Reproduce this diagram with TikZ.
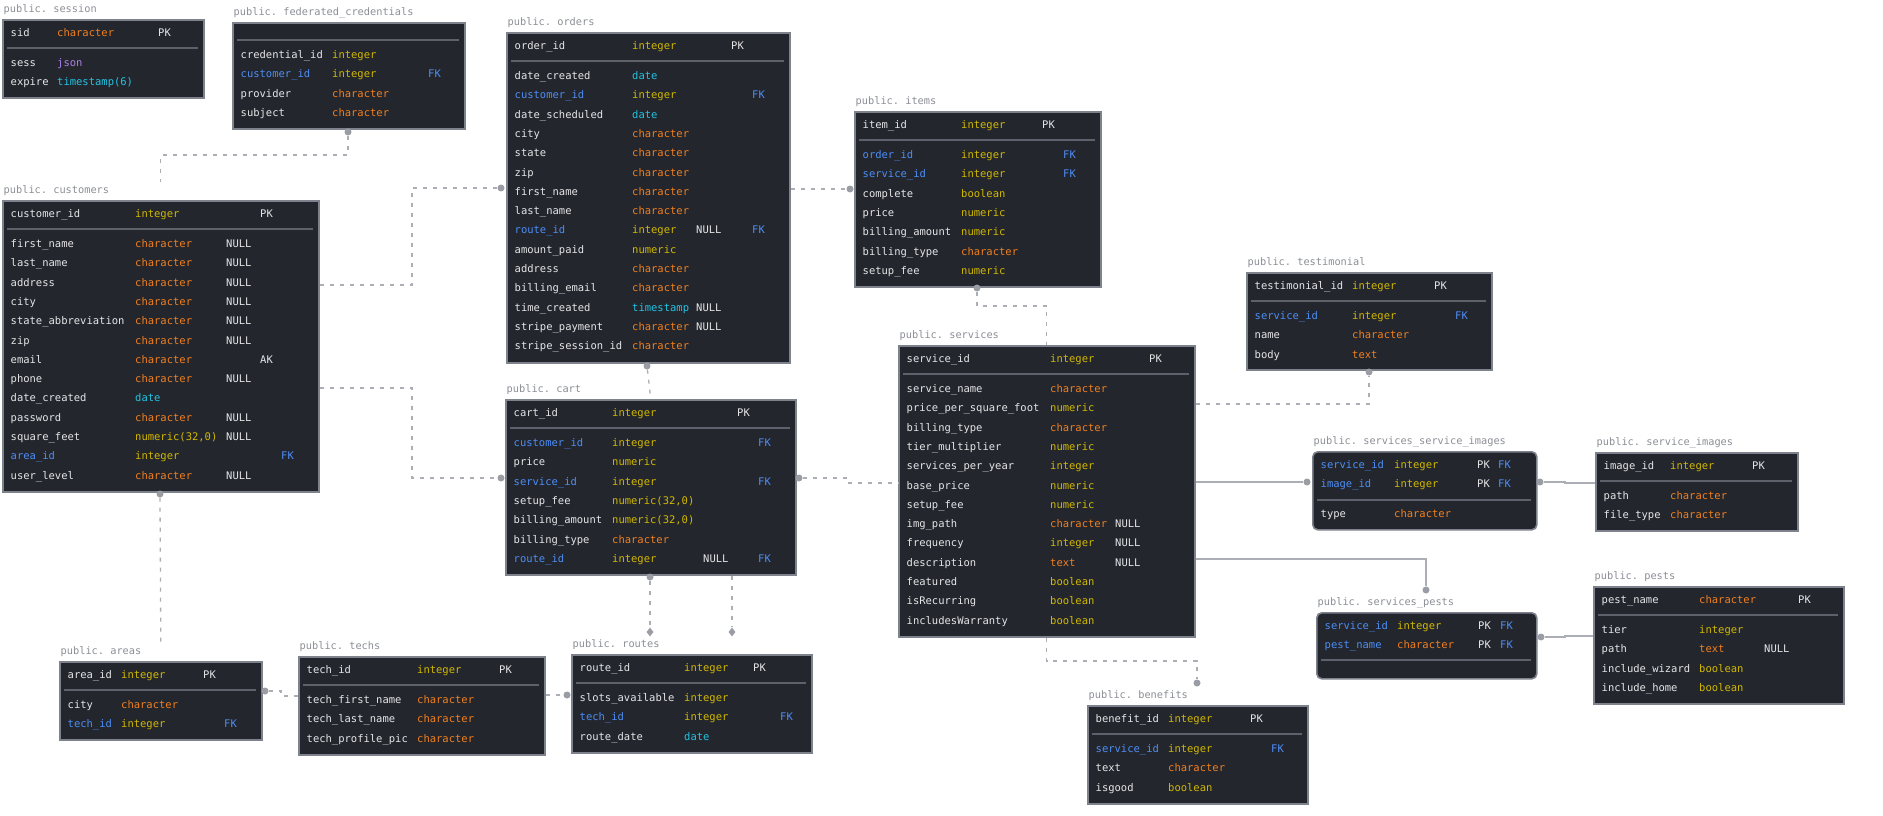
\documentclass[tikz,border=0pt]{standalone}
\usepackage{fontspec}
\setmonofont{DejaVu Sans Mono}
\usetikzlibrary{shapes.geometric, calc}

\definecolor{tblfill}{HTML}{23262D}
\definecolor{tblborder}{HTML}{7D828C}
\definecolor{sepline}{HTML}{5C616B}
\definecolor{txtc}{HTML}{E6E6E8}
\definecolor{fkc}{HTML}{4D8EF5}
\definecolor{ytype}{HTML}{D2B900}
\definecolor{otype}{HTML}{F2801F}
\definecolor{ctype}{HTML}{22C4E3}
\definecolor{ptype}{HTML}{AD7FEA}
\definecolor{lblgray}{HTML}{8B8E95}
\definecolor{linkgray}{HTML}{ABAEB4}
\definecolor{dotgray}{HTML}{9A9DA3}

\tikzset{
    tbl/.style={rectangle, draw=tblborder, fill=tblfill, line width=1.6pt, anchor=north west, inner sep=0pt},
    rtbl/.style={tbl, rounded corners=5pt},
    lbl/.style={anchor=south west, inner sep=0pt, xshift=1.5pt, yshift=4pt, text=lblgray, font=\ttfamily\fontsize{10.3}{12}\selectfont},
    fld/.style={anchor=west, inner sep=0pt, text height=9pt, text depth=2pt, text=txtc, font=\ttfamily\fontsize{10.5}{12}\selectfont},
    divider/.style={draw=sepline, line width=1.2pt},
    link/.style={draw=linkgray, line width=1.3pt, dash pattern=on 4pt off 6pt},
    solidlink/.style={draw=linkgray, line width=1.3pt},
    enddot/.style={circle, fill=dotgray, inner sep=0pt, minimum size=7pt},
    endmark/.style={diamond, fill=dotgray, inner sep=0pt, minimum width=7pt, minimum height=9pt}
}

% column positions of the current table
\def\nhead{1}\def\bodyy{44}
\def\colT{100}\def\colN{0}\def\colP{0}\def\colF{0}

% rows: name/namecolor/type/typecolor/null/pk/fk
\newcommand{\erfields}[2]{%
  \foreach \rN/\rNc/\rT/\rTc/\rZ/\rP/\rF [count=\i] in {#2} {
    \pgfmathsetmacro\ry{\i<\nhead+0.5 ? 14+19.3*(\i-1) : \bodyy+19.3*(\i-\nhead-1)}
    \node[fld, text=\rNc] (#1-n\i) at (8.5,\ry) {\rN};
    \node[fld, text=\rTc] (#1-t\i) at (\colT,\ry) {\rT};
    \node[fld] (#1-z\i) at (\colN,\ry) {\rZ};
    \node[fld] (#1-p\i) at (\colP,\ry) {\rP};
    \node[fld, text=fkc] (#1-f\i) at (\colF,\ry) {\rF};
  }%
}

\begin{document}
\begin{tikzpicture}[x=1pt, y=-1pt]
    \useasboundingbox (0,0) rectangle (1883,816);

    % Session
    \node[tbl, minimum width=201, minimum height=78] (session) at (2,19) {};
    \node[lbl] (session-lbl) at (session.north west) {public. session};
    \begin{scope}[shift={(session.north west)}]
        \def\colT{55}\def\colP{156}\def\colF{180}
        \draw[divider] (5,29) -- (196,29);
        \erfields{session}{sid/txtc/character/otype/{}/PK/{},
            sess/txtc/json/ptype/{}/{}/{}, expire/txtc/timestamp(6)/ctype/{}/{}/{}}
    \end{scope}

    % Federated credentials
    \node[tbl, minimum width=232, minimum height=106] (fed) at (232,22) {};
    \node[lbl] (fed-lbl) at (fed.north west) {public. federated\_credentials};
    \begin{scope}[shift={(fed.north west)}]
        \def\nhead{0}\def\bodyy{33}\def\colT{100}\def\colF{196}
        \draw[divider] (5,18) -- (227,18);
        \erfields{fed}{credential\_id/txtc/integer/ytype/{}/{}/{},
            customer\_id/fkc/integer/ytype/{}/{}/FK,
            provider/txtc/character/otype/{}/{}/{},
            subject/txtc/character/otype/{}/{}/{}}
    \end{scope}

    % Customers
    \node[tbl, minimum width=316, minimum height=291] (customers) at (2,200) {};
    \node[lbl] (customers-lbl) at (customers.north west) {public. customers};
    \begin{scope}[shift={(customers.north west)}]
        \def\colT{133}\def\colN{224}\def\colP{258}\def\colF{279}
        \draw[divider] (5,29) -- (311,29);
        \erfields{customers}{customer\_id/txtc/integer/ytype/{}/PK/{},
            first\_name/txtc/character/otype/NULL/{}/{},
            last\_name/txtc/character/otype/NULL/{}/{},
            address/txtc/character/otype/NULL/{}/{},
            city/txtc/character/otype/NULL/{}/{},
            state\_abbreviation/txtc/character/otype/NULL/{}/{},
            zip/txtc/character/otype/NULL/{}/{},
            email/txtc/character/otype/{}/AK/{},
            phone/txtc/character/otype/NULL/{}/{},
            date\_created/txtc/date/ctype/{}/{}/{},
            password/txtc/character/otype/NULL/{}/{},
            square\_feet/txtc/{numeric(32,0)}/ytype/NULL/{}/{},
            area\_id/fkc/integer/ytype/{}/{}/FK,
            user\_level/txtc/character/otype/NULL/{}/{}}
    \end{scope}

    % Orders
    \node[tbl, minimum width=283, minimum height=330] (orders) at (506,32) {};
    \node[lbl] (orders-lbl) at (orders.north west) {public. orders};
    \begin{scope}[shift={(orders.north west)}]
        \def\colT{126}\def\colN{190}\def\colP{225}\def\colF{246}
        \draw[divider] (5,29) -- (278,29);
        \erfields{orders}{order\_id/txtc/integer/ytype/{}/PK/{},
            date\_created/txtc/date/ctype/{}/{}/{},
            customer\_id/fkc/integer/ytype/{}/{}/FK,
            date\_scheduled/txtc/date/ctype/{}/{}/{},
            city/txtc/character/otype/{}/{}/{},
            state/txtc/character/otype/{}/{}/{},
            zip/txtc/character/otype/{}/{}/{},
            first\_name/txtc/character/otype/{}/{}/{},
            last\_name/txtc/character/otype/{}/{}/{},
            route\_id/fkc/integer/ytype/NULL/{}/FK,
            amount\_paid/txtc/numeric/ytype/{}/{}/{},
            address/txtc/character/otype/{}/{}/{},
            billing\_email/txtc/character/otype/{}/{}/{},
            time\_created/txtc/timestamp/ctype/NULL/{}/{},
            stripe\_payment/txtc/character/otype/NULL/{}/{},
            stripe\_session\_id/txtc/character/otype/{}/{}/{}}
    \end{scope}

    % Items
    \node[tbl, minimum width=246, minimum height=175] (items) at (854,111) {};
    \node[lbl] (items-lbl) at (items.north west) {public. items};
    \begin{scope}[shift={(items.north west)}]
        \def\colT{107}\def\colP{188}\def\colF{209}
        \draw[divider] (5,29) -- (241,29);
        \erfields{items}{item\_id/txtc/integer/ytype/{}/PK/{},
            order\_id/fkc/integer/ytype/{}/{}/FK,
            service\_id/fkc/integer/ytype/{}/{}/FK,
            complete/txtc/boolean/ytype/{}/{}/{},
            price/txtc/numeric/ytype/{}/{}/{},
            billing\_amount/txtc/numeric/ytype/{}/{}/{},
            billing\_type/txtc/character/otype/{}/{}/{},
            setup\_fee/txtc/numeric/ytype/{}/{}/{}}
    \end{scope}

    % Cart
    \node[tbl, minimum width=290, minimum height=175] (cart) at (505,399) {};
    \node[lbl] (cart-lbl) at (cart.north west) {public. cart};
    \begin{scope}[shift={(cart.north west)}]
        \def\colT{107}\def\colN{198}\def\colP{232}\def\colF{253}
        \draw[divider] (5,29) -- (285,29);
        \erfields{cart}{cart\_id/txtc/integer/ytype/{}/PK/{},
            customer\_id/fkc/integer/ytype/{}/{}/FK,
            price/txtc/numeric/ytype/{}/{}/{},
            service\_id/fkc/integer/ytype/{}/{}/FK,
            setup\_fee/txtc/{numeric(32,0)}/ytype/{}/{}/{},
            billing\_amount/txtc/{numeric(32,0)}/ytype/{}/{}/{},
            billing\_type/txtc/character/otype/{}/{}/{},
            route\_id/fkc/integer/ytype/NULL/{}/FK}
    \end{scope}

    % Services
    \node[tbl, minimum width=296, minimum height=291] (services) at (898,345) {};
    \node[lbl] (services-lbl) at (services.north west) {public. services};
    \begin{scope}[shift={(services.north west)}]
        \def\colT{152}\def\colN{217}\def\colP{251}
        \draw[divider] (5,29) -- (291,29);
        \erfields{services}{service\_id/txtc/integer/ytype/{}/PK/{},
            service\_name/txtc/character/otype/{}/{}/{},
            price\_per\_square\_foot/txtc/numeric/ytype/{}/{}/{},
            billing\_type/txtc/character/otype/{}/{}/{},
            tier\_multiplier/txtc/numeric/ytype/{}/{}/{},
            services\_per\_year/txtc/integer/ytype/{}/{}/{},
            base\_price/txtc/numeric/ytype/{}/{}/{},
            setup\_fee/txtc/numeric/ytype/{}/{}/{},
            img\_path/txtc/character/otype/NULL/{}/{},
            frequency/txtc/integer/ytype/NULL/{}/{},
            description/txtc/text/otype/NULL/{}/{},
            featured/txtc/boolean/ytype/{}/{}/{},
            isRecurring/txtc/boolean/ytype/{}/{}/{},
            includesWarranty/txtc/boolean/ytype/{}/{}/{}}
    \end{scope}

    % Testimonial
    \node[tbl, minimum width=245, minimum height=97] (testimonial) at (1246,272) {};
    \node[lbl] (testimonial-lbl) at (testimonial.north west) {public. testimonial};
    \begin{scope}[shift={(testimonial.north west)}]
        \def\colT{106}\def\colP{188}\def\colF{209}
        \draw[divider] (5,29) -- (240,29);
        \erfields{testimonial}{testimonial\_id/txtc/integer/ytype/{}/PK/{},
            service\_id/fkc/integer/ytype/{}/{}/FK,
            name/txtc/character/otype/{}/{}/{},
            body/txtc/text/otype/{}/{}/{}}
    \end{scope}

    % Services / service images
    \node[rtbl, minimum width=224, minimum height=78] (ssi) at (1312,451) {};
    \node[lbl] (ssi-lbl) at (ssi.north west) {public. services\_service\_images};
    \begin{scope}[shift={(ssi.north west)}]
        \def\nhead{2}\def\bodyy{63}\def\colT{82}\def\colP{165}\def\colF{186}
        \draw[divider] (5,49) -- (219,49);
        \erfields{ssi}{service\_id/fkc/integer/ytype/{}/PK/FK,
            image\_id/fkc/integer/ytype/{}/PK/FK,
            type/txtc/character/otype/{}/{}/{}}
    \end{scope}

    % Service images
    \node[tbl, minimum width=202, minimum height=78] (simages) at (1595,452) {};
    \node[lbl] (simages-lbl) at (simages.north west) {public. service\_images};
    \begin{scope}[shift={(simages.north west)}]
        \def\colT{75}\def\colP{157}\def\colF{180}
        \draw[divider] (5,29) -- (197,29);
        \erfields{simages}{image\_id/txtc/integer/ytype/{}/PK/{},
            path/txtc/character/otype/{}/{}/{},
            file\_type/txtc/character/otype/{}/{}/{}}
    \end{scope}

    % Services / pests
    \node[rtbl, minimum width=220, minimum height=66] (spests) at (1316,612) {};
    \node[lbl] (spests-lbl) at (spests.north west) {public. services\_pests};
    \begin{scope}[shift={(spests.north west)}]
        \def\nhead{2}\def\colT{81}\def\colP{162}\def\colF{184}
        \draw[divider] (5,48) -- (215,48);
        \erfields{spests}{service\_id/fkc/integer/ytype/{}/PK/FK,
            pest\_name/fkc/character/otype/{}/PK/FK}
    \end{scope}

    % Pests
    \node[tbl, minimum width=250, minimum height=117] (pests) at (1593,586) {};
    \node[lbl] (pests-lbl) at (pests.north west) {public. pests};
    \begin{scope}[shift={(pests.north west)}]
        \def\colT{106}\def\colN{171}\def\colP{205}
        \draw[divider] (5,29) -- (245,29);
        \erfields{pests}{pest\_name/txtc/character/otype/{}/PK/{},
            tier/txtc/integer/ytype/{}/{}/{},
            path/txtc/text/otype/NULL/{}/{},
            include\_wizard/txtc/boolean/ytype/{}/{}/{},
            include\_home/txtc/boolean/ytype/{}/{}/{}}
    \end{scope}

    % Areas
    \node[tbl, minimum width=202, minimum height=78] (areas) at (59,661) {};
    \node[lbl] (areas-lbl) at (areas.north west) {public. areas};
    \begin{scope}[shift={(areas.north west)}]
        \def\colT{62}\def\colP{144}\def\colF{165}
        \draw[divider] (5,29) -- (197,29);
        \erfields{areas}{area\_id/txtc/integer/ytype/{}/PK/{},
            city/txtc/character/otype/{}/{}/{},
            tech\_id/fkc/integer/ytype/{}/{}/FK}
    \end{scope}

    % Techs
    \node[tbl, minimum width=246, minimum height=98] (techs) at (298,656) {};
    \node[lbl] (techs-lbl) at (techs.north west) {public. techs};
    \begin{scope}[shift={(techs.north west)}]
        \def\colT{119}\def\colP{201}
        \draw[divider] (5,29) -- (241,29);
        \erfields{techs}{tech\_id/txtc/integer/ytype/{}/PK/{},
            tech\_first\_name/txtc/character/otype/{}/{}/{},
            tech\_last\_name/txtc/character/otype/{}/{}/{},
            tech\_profile\_pic/txtc/character/otype/{}/{}/{}}
    \end{scope}

    % Routes
    \node[tbl, minimum width=240, minimum height=98] (routes) at (571,654) {};
    \node[lbl] (routes-lbl) at (routes.north west) {public. routes};
    \begin{scope}[shift={(routes.north west)}]
        \def\colT{113}\def\colP{182}\def\colF{209}
        \draw[divider] (5,29) -- (235,29);
        \erfields{routes}{route\_id/txtc/integer/ytype/{}/PK/{},
            slots\_available/txtc/integer/ytype/{}/{}/{},
            tech\_id/fkc/integer/ytype/{}/{}/FK,
            route\_date/txtc/date/ctype/{}/{}/{}}
    \end{scope}

    % Benefits
    \node[tbl, minimum width=220, minimum height=98] (benefits) at (1087,705) {};
    \node[lbl] (benefits-lbl) at (benefits.north west) {public. benefits};
    \begin{scope}[shift={(benefits.north west)}]
        \def\colT{81}\def\colP{163}\def\colF{184}
        \draw[divider] (5,29) -- (215,29);
        \erfields{benefits}{benefit\_id/txtc/integer/ytype/{}/PK/{},
            service\_id/fkc/integer/ytype/{}/{}/FK,
            text/txtc/character/otype/{}/{}/{},
            isgood/txtc/boolean/ytype/{}/{}/{}}
    \end{scope}

    % Connector ends
    \node[enddot] (fed-bdot) at (348,132) {};
    \node[enddot] (cust-bdot) at (160,494) {};
    \node[enddot] (orders-ldot) at (501,188) {};
    \node[enddot] (orders-bdot) at (647,366) {};
    \node[enddot] (items-ldot) at (850,189) {};
    \node[enddot] (items-bdot) at (977,288) {};
    \node[enddot] (cart-ldot) at (501,478) {};
    \node[enddot] (cart-rdot) at (799,478) {};
    \node[enddot] (cart-bdot) at (650,577) {};
    \node[enddot] (test-bdot) at (1369,372) {};
    \node[enddot] (ssi-ldot) at (1307,482) {};
    \node[enddot] (ssi-rdot) at (1540,482) {};
    \node[enddot] (spests-tdot) at (1426,590) {};
    \node[enddot] (spests-rdot) at (1541,637) {};
    \node[enddot] (ben-tdot) at (1197,683) {};
    \node[enddot] (areas-rdot) at (265,691) {};
    \node[enddot] (routes-ldot) at (567,695) {};
    \node[endmark] (routes-tipA) at (650,632) {};
    \node[endmark] (routes-tipB) at (732,632) {};

    % Relations
    \draw[link] (fed-bdot) |- (customers.north |- 0,155) -- (customers.north |- 0,182);
    \draw[link] (customers.east |- 0,285) -- (412,285) |- (orders-ldot);
    \draw[link] (customers.east |- 0,388) -- (412,388) |- (cart-ldot);
    \draw[link] (orders.east |- 0,189) -- (items-ldot);
    \draw[link] (orders-bdot) -- (cart.north);
    \draw[link] (items-bdot) |- (services.north |- 0,306) -- (services.north);
    \draw[link] (cart-rdot) -| (847,483) -- (services.west |- 0,483);
    \draw[link] (services.east |- 0,404) -| (test-bdot);
    \draw[link] (services.south) -- (services.south |- 0,661) -| (ben-tdot);
    \draw[link] (cust-bdot) -- (areas.north |- 0,642);
    \draw[link] (areas-rdot) -| (281,696) -- (techs.west |- 0,696);
    \draw[link] (techs.east |- 0,695) -- (routes-ldot);
    \draw[link] (cart-bdot) -- (routes-tipA);
    \draw[link] (cart.south -| routes-tipB) -- (routes-tipB);
    \draw[solidlink] (services.east |- 0,482) -- (ssi-ldot);
    \draw[solidlink] (ssi-rdot) -| (1565,483) -- (simages.west |- 0,483);
    \draw[solidlink] (services.east |- 0,559) -| (spests-tdot);
    \draw[solidlink] (spests-rdot) -| (1565,636) -- (pests.west |- 0,636);
\end{tikzpicture}
\end{document}
